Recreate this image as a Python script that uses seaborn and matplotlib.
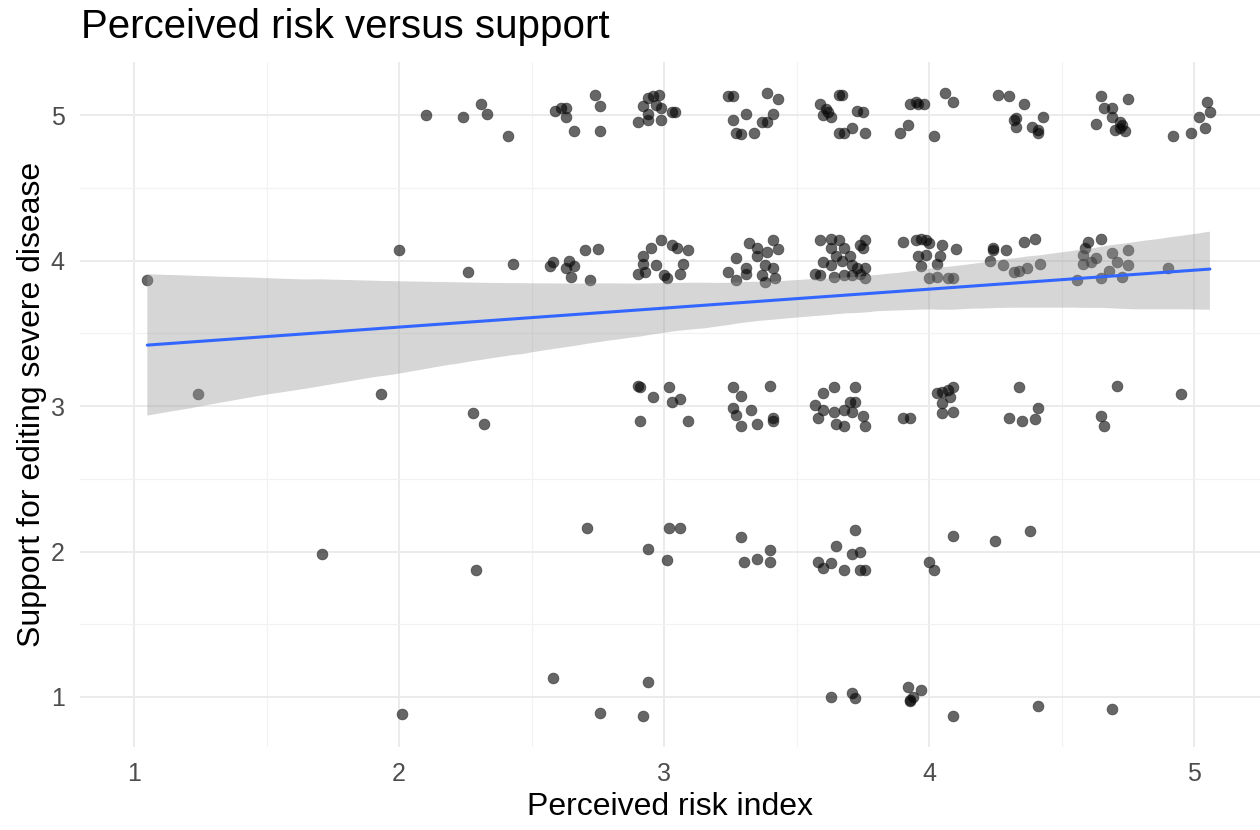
import numpy as np
import pandas as pd
import matplotlib
matplotlib.use("Agg")
import matplotlib.pyplot as plt
import seaborn as sns
from matplotlib.ticker import MultipleLocator

# Data (jittered positions as displayed)
support_1 = [(2.01,0.88),(2.58,1.13),(2.76,0.89),(2.92,0.87),(2.94,1.10),(3.63,1.00),(3.71,1.03),(3.72,0.99),
             (3.92,1.07),(3.93,0.98),(3.94,1.00),(3.97,1.05),(3.93,0.97),(4.09,0.87),(4.41,0.94),(4.69,0.92)]
support_2 = [(1.71,1.98),(2.29,1.87),(2.71,2.16),(2.94,2.02),(3.01,1.94),(3.02,2.16),(3.06,2.16),(3.29,2.10),
             (3.40,2.01),(3.30,1.93),(3.35,1.95),(3.40,1.93),(3.58,1.93),(3.60,1.89),(3.63,1.92),(3.65,2.04),
             (3.72,2.15),(3.71,1.98),(3.74,2.00),(3.68,1.87),(3.74,1.87),(3.76,1.87),(4.00,1.93),(4.02,1.87),
             (4.09,2.11),(4.25,2.07),(4.38,2.14)]
support_3 = [(1.24,3.08),(1.93,3.08),(2.28,2.95),(2.32,2.88),(2.90,3.14),(2.91,3.13),(2.96,3.06),(2.91,2.90),
             (3.02,3.13),(3.03,3.03),(3.06,3.05),(3.09,2.90),(3.26,3.13),(3.29,3.07),(3.40,3.14),(3.26,2.99),
             (3.27,2.94),(3.33,2.97),(3.29,2.86),(3.35,2.88),(3.41,2.90),(3.41,2.92),(3.60,3.09),(3.64,3.13),
             (3.72,3.13),(3.57,3.01),(3.60,2.97),(3.58,2.92),(3.64,2.96),(3.68,2.97),(3.70,3.03),(3.72,3.03),
             (3.71,2.96),(3.65,2.88),(3.68,2.86),(3.75,2.93),(3.76,2.86),(3.90,2.92),(3.93,2.92),(4.03,3.09),
             (4.05,3.10),(4.07,3.11),(4.09,3.13),(4.05,3.02),(4.08,3.06),(4.05,2.95),(4.09,2.96),(4.34,3.13),
             (4.41,2.99),(4.30,2.92),(4.35,2.90),(4.40,2.91),(4.71,3.14),(4.65,2.93),(4.66,2.86),(4.95,3.08)]
support_4 = [(1.05,3.87),(2.00,4.07),(2.26,3.92),(2.43,3.98),
             (2.58,3.99),(2.57,3.96),(2.64,4.00),(2.63,3.95),(2.66,3.96),(2.65,3.89),(2.70,4.07),(2.75,4.08),(2.72,3.87),
             (2.92,4.03),(2.92,3.98),(2.90,3.91),(2.93,3.92),(2.95,4.09),(2.99,4.14),(3.03,4.11),(3.05,4.09),(3.09,4.07),
             (2.97,3.97),(3.00,3.90),(3.01,3.88),(3.07,3.98),(3.06,3.91),
             (3.27,4.02),(3.32,4.12),(3.24,3.92),(3.27,3.87),(3.31,3.95),(3.31,3.91),(3.35,4.09),(3.35,4.03),(3.38,3.97),
             (3.39,4.06),(3.41,4.14),(3.43,4.08),(3.37,3.90),(3.38,3.85),(3.41,3.95),(3.42,3.88),
             (3.59,4.14),(3.63,4.15),(3.66,4.14),(3.63,4.09),(3.68,4.09),(3.74,4.11),(3.76,4.14),(3.75,4.09),(3.65,4.03),
             (3.60,3.99),(3.63,3.97),(3.67,4.00),(3.70,4.03),(3.71,3.97),(3.73,3.95),(3.57,3.91),(3.59,3.90),(3.64,3.89),
             (3.68,3.90),(3.71,3.90),(3.74,3.91),(3.76,3.88),(3.76,3.95),
             (3.90,4.13),(3.95,4.14),(3.97,4.15),(3.99,4.14),(4.00,4.12),(4.05,4.11),(4.10,4.08),(3.96,4.03),(3.99,4.04),
             (4.04,4.03),(4.03,3.98),(3.97,3.96),(4.00,3.88),(4.03,3.89),(4.07,3.88),(4.09,3.88),
             (4.24,4.09),(4.24,4.07),(4.29,4.07),(4.23,4.00),(4.28,3.97),(4.32,3.92),(4.34,3.93),(4.37,3.95),(4.42,3.98),
             (4.36,4.13),(4.40,4.15),
             (4.60,4.13),(4.65,4.15),(4.59,4.09),(4.58,4.04),(4.58,3.98),(4.61,3.99),(4.63,4.02),(4.69,4.05),(4.71,3.99),
             (4.75,4.07),(4.75,3.97),(4.68,3.93),(4.73,3.89),(4.65,3.88),(4.56,3.87),(4.90,3.95)]
support_5 = [(2.10,5.00),(2.24,4.99),(2.31,5.08),(2.33,5.01),(2.41,4.86),(2.59,5.03),(2.61,5.05),(2.63,5.05),
             (2.63,4.99),(2.66,4.89),(2.74,5.14),(2.76,5.06),(2.76,4.89),
             (2.92,5.06),(2.94,5.12),(2.96,5.13),(2.98,5.14),(2.97,5.07),(2.99,5.05),(2.94,5.01),(2.94,4.97),(2.90,4.95),
             (2.99,4.97),(3.03,5.02),(3.04,5.02),
             (3.24,5.13),(3.26,5.13),(3.39,5.15),(3.43,5.11),(3.31,5.01),(3.41,5.01),(3.26,4.97),(3.37,4.95),(3.39,4.95),
             (3.27,4.88),(3.29,4.87),(3.34,4.88),
             (3.59,5.08),(3.66,5.14),(3.67,5.14),(3.62,5.02),(3.60,5.00),(3.63,4.99),(3.73,5.03),(3.75,5.02),(3.66,4.88),
             (3.68,4.88),(3.71,4.91),(3.76,4.88),(3.61,5.04),
             (3.93,5.08),(3.95,5.09),(3.98,5.08),(3.96,5.08),(4.06,5.15),(4.09,5.09),(3.89,4.88),(3.92,4.93),(4.02,4.86),
             (4.26,5.14),(4.30,5.13),(4.36,5.08),(4.43,4.99),(4.32,4.97),(4.33,4.98),(4.33,4.92),(4.39,4.92),(4.41,4.90),
             (4.41,4.88),
             (4.65,5.13),(4.75,5.11),(4.66,5.05),(4.69,5.05),(4.69,4.99),(4.63,4.94),(4.72,4.95),(4.73,4.93),(4.70,4.90),
             (4.74,4.89),(4.72,4.91),
             (4.92,4.86),(4.99,4.88),(5.04,4.91),(5.02,4.99),(5.06,5.02),(5.05,5.09)]

x_ticks = [1, 2, 3, 4, 5]
y_ticks = [1, 2, 3, 4, 5]
title = "Perceived risk versus support"
x_label = "Perceived risk index"
y_label = "Support for editing severe disease"

pts = support_1 + support_2 + support_3 + support_4 + support_5
df = pd.DataFrame(pts, columns=["risk", "support"])

sns.set_theme(style="whitegrid")
plt.rcParams["font.family"] = ["Liberation Sans", "DejaVu Sans"]

fig = plt.figure(figsize=(12.6, 8.3), dpi=100)
ax = fig.add_axes([0.0635, 0.1, 0.9365, 0.825])

sns.regplot(data=df, x="risk", y="support", ax=ax, ci=95, n_boot=1000, seed=1,
            scatter_kws=dict(color="black", alpha=0.6, s=60, linewidths=0.6, edgecolors="#222222"),
            line_kws=dict(color="#3366FF", linewidth=2.2))

# recolor CI band to ggplot grey
for coll in ax.collections:
    if isinstance(coll, matplotlib.collections.PolyCollection):
        coll.set_facecolor("#999999")
        coll.set_alpha(0.4)
        coll.set_edgecolor("none")
        coll.set_zorder(1)

ax.set_xlim(0.796, 5.249)
ax.set_ylim(0.656, 5.364)
ax.set_xticks(x_ticks)
ax.set_yticks(y_ticks)
ax.xaxis.set_minor_locator(MultipleLocator(0.5))
ax.yaxis.set_minor_locator(MultipleLocator(0.5))
ax.grid(which="major", color="#ebebeb", linewidth=1.4)
ax.grid(which="minor", color="#f2f2f2", linewidth=0.9)
ax.set_axisbelow(True)
ax.set_facecolor("white")
for s in ax.spines.values():
    s.set_visible(False)
ax.tick_params(axis="both", which="both", length=0, labelsize=18, labelcolor="#4d4d4d")
ax.tick_params(axis="x", pad=11)
ax.tick_params(axis="y", pad=11)

ax.set_xlabel(x_label, fontsize=23, color="black", labelpad=4)
ax.set_ylabel(y_label, fontsize=23, color="black", labelpad=3)
fig.text(0.064, 0.968, title, fontsize=29, color="black", ha="left", va="center")

fig.savefig("out.png", dpi=100, facecolor="white")
